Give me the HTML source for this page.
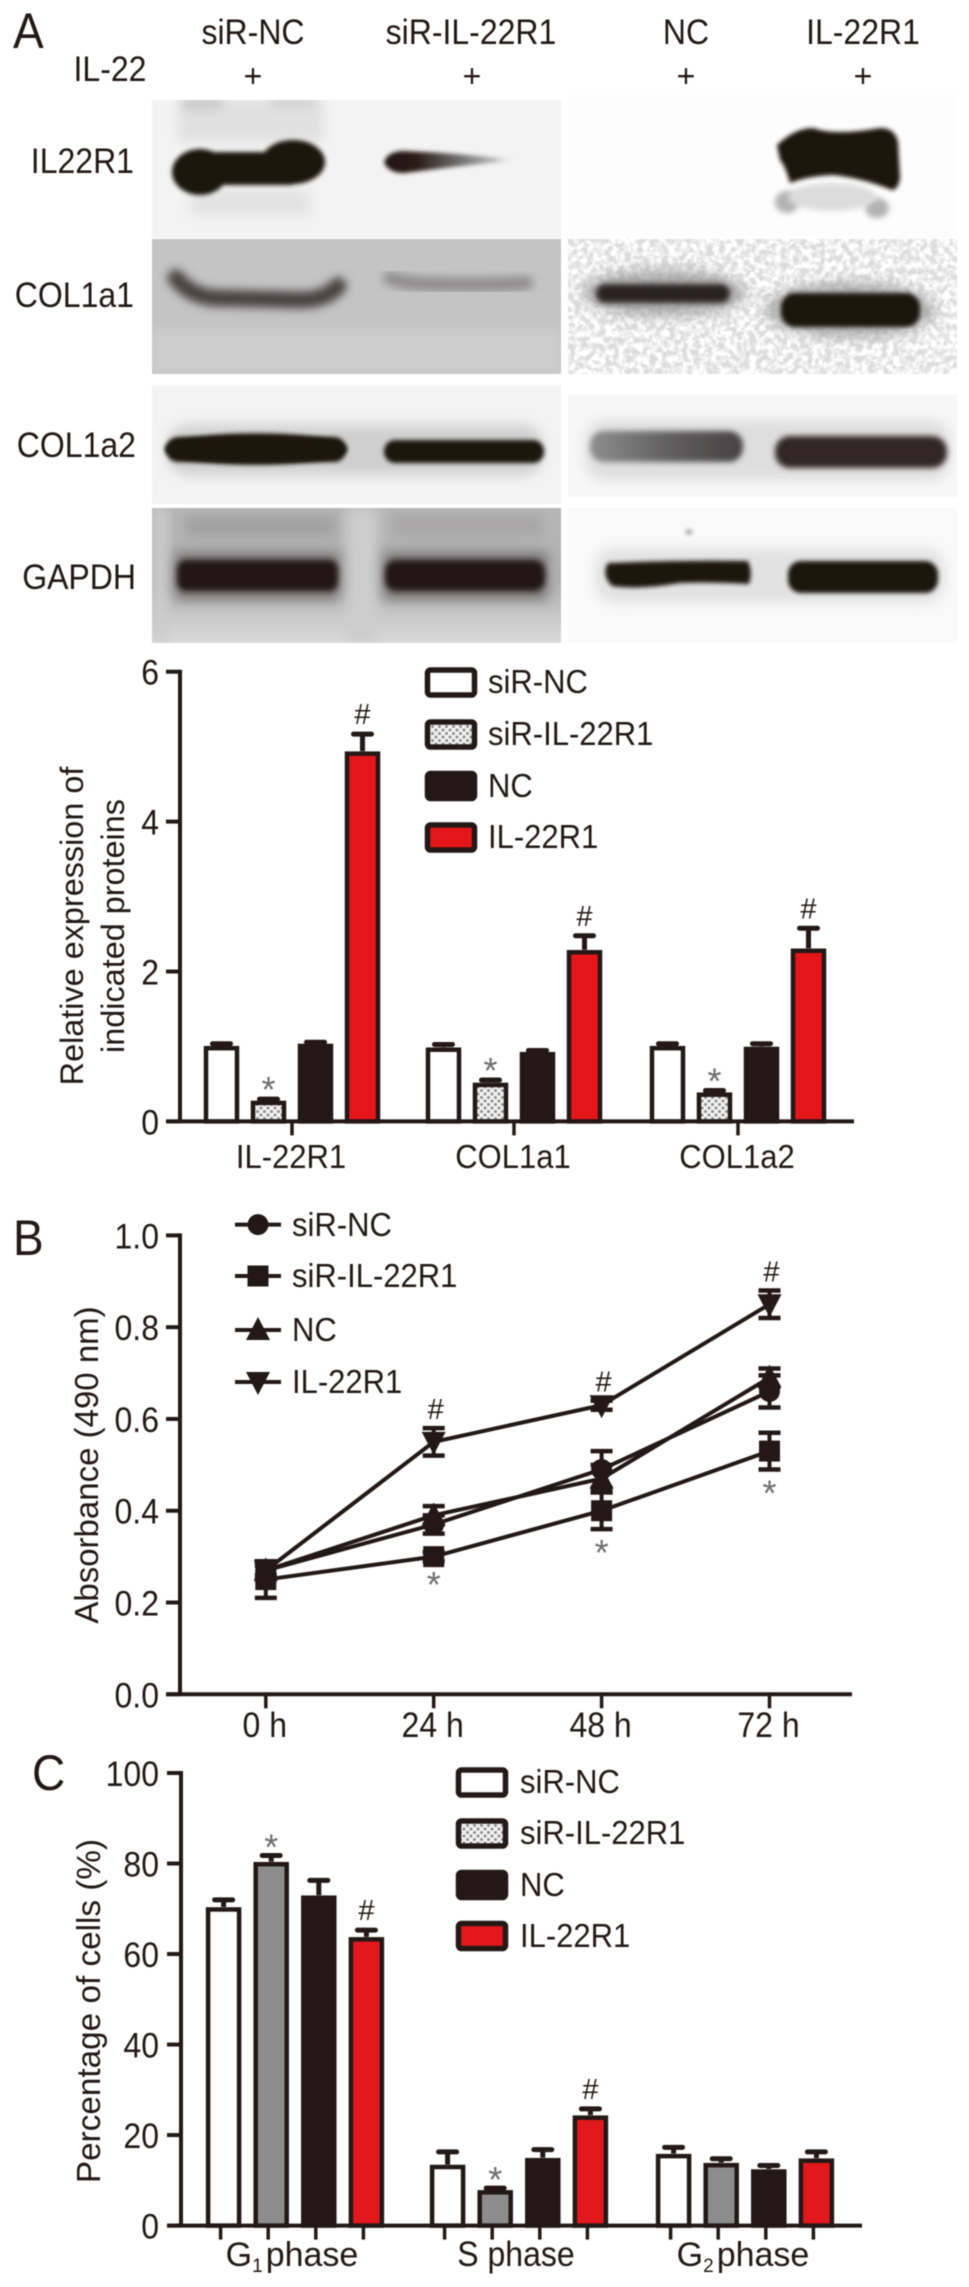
<!DOCTYPE html>
<html lang="en">
<head>
<meta charset="utf-8">
<title>IL-22R1 western blots, proliferation and cell cycle</title>
<style>
  html, body { margin: 0; padding: 0; background: #fff; }
  #figure { display: block; width: 969px; height: 2287px; filter: blur(0.6px); }
  text { font-family: "Liberation Sans", sans-serif; fill: #231815; }
</style>
</head>
<body>
<svg id="figure" xmlns="http://www.w3.org/2000/svg" width="969" height="2287" viewBox="0 0 969 2287">
  <defs>
    <filter id="b1" x="-30%" y="-60%" width="160%" height="220%"><feGaussianBlur stdDeviation="2"/></filter>
    <filter id="b3" x="-30%" y="-80%" width="160%" height="260%"><feGaussianBlur stdDeviation="3"/></filter>
    <filter id="b4" x="-30%" y="-100%" width="160%" height="300%"><feGaussianBlur stdDeviation="4.5"/></filter>
    <filter id="b6" x="-30%" y="-100%" width="160%" height="300%"><feGaussianBlur stdDeviation="6"/></filter>
    <filter id="grain" x="0" y="0" width="100%" height="100%">
      <feTurbulence type="fractalNoise" baseFrequency="0.16" numOctaves="3" seed="4"/>
      <feColorMatrix type="matrix" values="0 0 0 0 1  0 0 0 0 1  0 0 0 0 1  2.4 2.4 0 0 -1.9"/>
    </filter>
    <linearGradient id="taper" x1="0" x2="1" y1="0" y2="0">
      <stop offset="0" stop-color="#1f1210"/>
      <stop offset="0.25" stop-color="#2a1c1a"/>
      <stop offset="0.55" stop-color="#6b6868"/>
      <stop offset="0.85" stop-color="#b8b8b8"/>
      <stop offset="1" stop-color="#f0f0f0"/>
    </linearGradient>
    <linearGradient id="nc-a2" x1="0" x2="1" y1="0" y2="0">
      <stop offset="0" stop-color="#8e8e8e"/>
      <stop offset="0.5" stop-color="#626060"/>
      <stop offset="1" stop-color="#454242"/>
    </linearGradient>
    <linearGradient id="gapdh-bg" x1="0" x2="0" y1="0" y2="1">
      <stop offset="0" stop-color="#b6b6b6"/>
      <stop offset="0.55" stop-color="#b2b2b2"/>
      <stop offset="1" stop-color="#dadada"/>
    </linearGradient>
    <pattern id="hatch" width="7" height="7" patternUnits="userSpaceOnUse">
      <rect width="7" height="7" fill="#f2f2f2"/>
      <circle cx="2" cy="2" r="1.5" fill="#8e8e8e"/>
      <circle cx="5.5" cy="5.5" r="1.5" fill="#8e8e8e"/>
    </pattern>
    <clipPath id="clip-l1"><rect x="152" y="100" width="409" height="138"/></clipPath>
    <clipPath id="clip-l2"><rect x="152" y="239" width="409" height="135"/></clipPath>
    <clipPath id="clip-l3"><rect x="152" y="385" width="409" height="119"/></clipPath>
    <clipPath id="clip-l4"><rect x="152" y="508" width="409" height="135"/></clipPath>
    <clipPath id="clip-r1"><rect x="568" y="95" width="389" height="143"/></clipPath>
    <clipPath id="clip-r2"><rect x="568" y="239" width="389" height="135"/></clipPath>
    <clipPath id="clip-r3"><rect x="568" y="395" width="389" height="102"/></clipPath>
    <clipPath id="clip-r4"><rect x="568" y="508" width="389" height="135"/></clipPath>
  </defs>

  <g>
    <text x="13" y="48" font-size="46">A</text>
    <g font-size="32" text-anchor="middle">
      <text x="253" y="44">siR-NC</text>
      <text x="471" y="44">siR-IL-22R1</text>
      <text x="686" y="44">NC</text>
      <text x="863" y="44">IL-22R1</text>
      <text x="110" y="81">IL-22</text>
      <text x="253" y="87">+</text>
      <text x="472" y="87">+</text>
      <text x="686" y="87">+</text>
      <text x="863" y="87">+</text>
    </g>
    <g font-size="32" text-anchor="end">
      <text x="134" y="173">IL22R1</text>
      <text x="134" y="307">COL1a1</text>
      <text x="136" y="457">COL1a2</text>
      <text x="136" y="589">GAPDH</text>
    </g>

    <g clip-path="url(#clip-l1)">
      <rect x="152" y="100" width="409" height="138" fill="#f3f3f3"/>
      <rect x="178" y="98" width="145" height="44" fill="#e0e0e0" filter="url(#b6)"/>
      <rect x="183" y="96" width="40" height="14" fill="#cccccc" filter="url(#b4)"/>
      <rect x="270" y="96" width="45" height="12" fill="#d4d4d4" filter="url(#b4)"/>
      <rect x="190" y="190" width="120" height="25" fill="#e2e2e2" filter="url(#b6)"/>
      <g fill="#1f1210" filter="url(#b1)">
        <ellipse cx="200" cy="172" rx="28" ry="23"/>
        <ellipse cx="293" cy="162" rx="32" ry="22"/>
        <rect x="200" y="152" width="93" height="33"/>
      </g>
      <path d="M384,162 Q388,151 404,151 Q460,153 515,160 Q460,166 404,173 Q388,173 384,162 Z" fill="url(#taper)" filter="url(#b1)"/>
    </g>
    <g clip-path="url(#clip-r1)">
      <rect x="568" y="95" width="389" height="143" fill="#fdfdfd"/>
      <ellipse cx="787" cy="202" rx="12" ry="11" fill="#b2b2b2" filter="url(#b3)"/>
      <ellipse cx="877" cy="208" rx="12" ry="10" fill="#b2b2b2" filter="url(#b3)"/>
      <ellipse cx="832" cy="197" rx="44" ry="14" fill="#dcdcdc" filter="url(#b3)"/>
      <path d="M777,145 Q795,128 813,128 Q835,136 880,128 Q895,128 898,142 L900,178 Q898,190 892,190 Q862,178 833,175 Q808,176 790,183 Q785,165 780,160 Z" fill="#1f1210" filter="url(#b1)"/>
    </g>

    <g clip-path="url(#clip-l2)">
      <rect x="152" y="239" width="409" height="135" fill="#c4c4c4"/>
      <rect x="152" y="330" width="409" height="44" fill="#cdcdcd" filter="url(#b6)"/>
      <path d="M176,278 Q190,296 215,298 L300,300 Q326,300 338,286" fill="none" stroke="#4a4342" stroke-width="17" stroke-linecap="round" filter="url(#b4)"/>
      <path d="M390,278 Q400,283 430,284 Q480,286 526,283" fill="none" stroke="#8f8c8c" stroke-width="14" stroke-linecap="round" filter="url(#b4)"/>
    </g>
    <g clip-path="url(#clip-r2)">
      <rect x="568" y="239" width="389" height="135" fill="#dcdcdc"/>
      <rect x="568" y="239" width="389" height="135" filter="url(#grain)"/>
      <ellipse cx="664" cy="293" rx="82" ry="24" fill="#9a9a9a" opacity="0.75" filter="url(#b6)"/>
      <ellipse cx="850" cy="310" rx="85" ry="28" fill="#9a9a9a" opacity="0.75" filter="url(#b6)"/>
      <rect x="596" y="284" width="134" height="19" rx="9" fill="#2c2220" filter="url(#b3)"/>
      <rect x="781" y="293" width="139" height="34" rx="14" fill="#1f1210" filter="url(#b1)"/>
    </g>

    <g clip-path="url(#clip-l3)">
      <rect x="152" y="385" width="409" height="119" fill="#f3f3f3"/>
      <rect x="168" y="425" width="375" height="50" rx="20" fill="#cfcfcf" filter="url(#b6)"/>
      <ellipse cx="256" cy="449" rx="91" ry="15.5" fill="#1f1210" filter="url(#b1)"/>
      <rect x="166" y="437" width="180" height="25" rx="12" fill="#1f1210" filter="url(#b1)"/>
      <rect x="384" y="440" width="160" height="23" rx="11" fill="#1f1210" filter="url(#b1)"/>
    </g>
    <g clip-path="url(#clip-r3)">
      <rect x="568" y="395" width="389" height="102" fill="#f7f7f7"/>
      <rect x="585" y="420" width="365" height="60" rx="20" fill="#dedede" filter="url(#b6)"/>
      <rect x="590" y="431" width="153" height="31" rx="14" fill="url(#nc-a2)" filter="url(#b3)"/>
      <rect x="775" y="436" width="172" height="32" rx="15" fill="#332826" filter="url(#b3)"/>
    </g>

    <g clip-path="url(#clip-l4)">
      <rect x="152" y="508" width="409" height="135" fill="url(#gapdh-bg)"/>
      <rect x="152" y="508" width="16" height="135" fill="#cccccc" filter="url(#b6)"/>
      <rect x="346" y="508" width="32" height="135" fill="#cdcdcd" filter="url(#b6)"/>
      <rect x="185" y="515" width="150" height="22" fill="#a2a0a0" filter="url(#b6)"/>
      <rect x="392" y="515" width="150" height="22" fill="#a8a6a6" filter="url(#b6)"/>
      <rect x="175" y="552" width="165" height="48" fill="#7a7676" filter="url(#b6)"/>
      <rect x="383" y="552" width="165" height="48" fill="#7a7676" filter="url(#b6)"/>
      <rect x="177" y="560" width="161" height="31" rx="9" fill="#241816" filter="url(#b3)"/>
      <rect x="385" y="560" width="160" height="31" rx="11" fill="#241816" filter="url(#b3)"/>
    </g>
    <g clip-path="url(#clip-r4)">
      <rect x="568" y="508" width="389" height="135" fill="#f9f9f9"/>
      <rect x="595" y="548" width="350" height="55" rx="20" fill="#e2e2e2" filter="url(#b6)"/>
      <path d="M608,563 Q680,560 748,561 Q753,572 749,584 Q715,582 680,583 Q640,590 612,586 Q601,575 608,563 Z" fill="#1f1210" filter="url(#b1)"/>
      <rect x="788" y="561" width="150" height="32" rx="13" fill="#1f1210" filter="url(#b1)"/>
      <ellipse cx="689" cy="532" rx="3.5" ry="2.5" fill="#9c9c9c" filter="url(#b1)"/>
    </g>
  </g>

  <g id="chart-a">
    <text transform="translate(83 926) rotate(-90)" font-size="32.4" text-anchor="middle">Relative expression of</text>
    <text transform="translate(124 926) rotate(-90)" font-size="32.4" text-anchor="middle">indicated proteins</text>
  </g>
  <g id="chart-a-legend" font-size="31">
    <g>
      <rect x="427.5" y="670" width="47" height="25" rx="3" fill="#fff" stroke="#231815" stroke-width="5.5"/>
      <text x="488" y="693">siR-NC</text>
    </g>
    <g>
      <rect x="427.5" y="722" width="47" height="25" rx="3" fill="url(#hatch)" stroke="#231815" stroke-width="5.5"/>
      <text x="488" y="745">siR-IL-22R1</text>
    </g>
    <g>
      <rect x="427.5" y="773.5" width="47" height="25" rx="3" fill="#231815" stroke="#231815" stroke-width="5.5"/>
      <text x="488" y="797">NC</text>
    </g>
    <g>
      <rect x="427.5" y="825" width="47" height="25" rx="3" fill="#e5161a" stroke="#231815" stroke-width="5.5"/>
      <text x="488" y="848">IL-22R1</text>
    </g>
  </g>

  <g id="chart-b">
    <text x="13" y="1255" font-size="46">B</text>
    <text transform="translate(98 1465) rotate(-90)" font-size="33" text-anchor="middle">Absorbance (490 nm)</text>
  </g>
  <g id="chart-b-legend" font-size="31">
    <text x="292" y="1236">siR-NC</text>
    <text x="292" y="1287">siR-IL-22R1</text>
    <text x="292" y="1341">NC</text>
    <text x="292" y="1393">IL-22R1</text>
  </g>

  <g id="chart-c">
    <text x="32" y="1790" font-size="46">C</text>
    <text transform="translate(100 2011) rotate(-90)" font-size="33.3" text-anchor="middle">Percentage of cells (%)</text>
  </g>
  <g id="chart-c-legend" font-size="31">
    <g>
      <rect x="458.5" y="1770" width="47" height="25" rx="3" fill="#fff" stroke="#231815" stroke-width="5.5"/>
      <text x="520" y="1793">siR-NC</text>
    </g>
    <g>
      <rect x="458.5" y="1821" width="47" height="25" rx="3" fill="url(#hatch)" stroke="#231815" stroke-width="5.5"/>
      <text x="520" y="1844">siR-IL-22R1</text>
    </g>
    <g>
      <rect x="458.5" y="1872.5" width="47" height="25" rx="3" fill="#231815" stroke="#231815" stroke-width="5.5"/>
      <text x="520" y="1896">NC</text>
    </g>
    <g>
      <rect x="458.5" y="1923.5" width="47" height="25" rx="3" fill="#e5161a" stroke="#231815" stroke-width="5.5"/>
      <text x="520" y="1947">IL-22R1</text>
    </g>
  </g>
</svg>

<script>
/* ---------- Panel A data ---------- */
const aCategories = ['IL-22R1', 'COL1a1', 'COL1a2'];
const aYTicks = [0, 2, 4, 6];
const aSiNC = [1.01, 0.99, 1.01];
const aSiIL = [0.28, 0.52, 0.39];
const aNC = [1.04, 0.93, 1.0];
const aIL = [4.94, 2.29, 2.31];
const aSiNCErr = [0.04, 0.05, 0.04];
const aSiILErr = [0.03, 0.045, 0.035];
const aNCErr = [0.03, 0.03, 0.05];
const aILErr = [0.24, 0.2, 0.28];

/* ---------- Panel B data ---------- */
const bCategories = ['0 h', '24 h', '48 h', '72 h'];
const bYTicks = [0, 0.2, 0.4, 0.6, 0.8, 1.0];
const bSiNC = [0.27, 0.37, 0.49, 0.66];
const bSiIL = [0.25, 0.3, 0.4, 0.53];
const bNC = [0.27, 0.39, 0.47, 0.69];
const bIL = [0.27, 0.55, 0.63, 0.85];
const bSiNCErr = [0.02, 0.02, 0.04, 0.035];
const bSiILErr = [0.04, 0.01, 0.04, 0.04];
const bNCErr = [0.02, 0.02, 0.03, 0.02];
const bILErr = [0.01, 0.03, 0.01, 0.03];

/* ---------- Panel C data ---------- */
const cCategories = ['G', 'S phase', 'G'];
const cYTicks = [0, 20, 40, 60, 80, 100];
const cSiNC = [70.4, 13.5, 15.9];
const cSiIL = [80.4, 7.9, 13.9];
const cNC = [73, 15, 12.5];
const cIL = [63.8, 24.4, 14.9];
const cSiNCErr = [1.8, 3.0, 1.6];
const cSiILErr = [1.6, 0.6, 1.1];
const cNCErr = [3.5, 2.0, 1.0];
const cILErr = [1.7, 1.6, 1.6];

const INK = '#231815';
const SVGNS = 'http://www.w3.org/2000/svg';

function el(tag, attrs, parent) {
  const n = document.createElementNS(SVGNS, tag);
  for (const k in attrs) n.setAttribute(k, attrs[k]);
  parent.appendChild(n);
  return n;
}
function hashMark(parent, x, topY) {
  const t = el('text', { x: x, y: topY - 9, 'font-size': 29, 'text-anchor': 'middle' }, parent);
  t.textContent = '#';
  
  
}
function starMark(parent, x, centerY) {
  const t = el('text', { x: x, y: centerY + 21, 'font-size': 36, 'text-anchor': 'middle' }, parent);
  t.style.fill = '#6e6e6e';
  t.textContent = '*';
  
  
}
function drawYAxis(parent, x0, scale, ticks, fmt, labelX) {
  const line = el('line', { x1: x0, x2: x0, y1: scale(ticks[ticks.length - 1]) - 2, y2: scale(ticks[0]), stroke: INK, 'stroke-width': 4 }, parent);
  
  
  ticks.forEach(function (v) {
    const tick = el('line', { x1: x0 - 14, x2: x0, y1: scale(v), y2: scale(v), stroke: INK, 'stroke-width': 4 }, parent);
    
    
    const label = el('text', { x: labelX, y: scale(v) + 13, 'font-size': 32, 'text-anchor': 'end' }, parent);
    label.textContent = fmt(v);
    
    
  });
}
function drawBars(parent, opts) {
  const series = opts.series;
  opts.categories.forEach(function (cat, g) {
    series.forEach(function (s, i) {
      const cx = opts.centers(g) + (i - 1.5) * opts.step;
      const top = opts.y(s.values[g]);
      const errTop = opts.y(s.values[g] + s.errs[g]);
      const err = el('line', { x1: cx, x2: cx, y1: top, y2: errTop, stroke: INK, 'stroke-width': 5 }, parent);
      
      
      const cap = el('line', { x1: cx - 9, x2: cx + 9, y1: errTop + 1, y2: errTop + 1, stroke: INK, 'stroke-width': 5, 'stroke-linecap': 'round' }, parent);
      
      
      const bar = el('rect', { x: cx - 15.5, y: top + 2.5, width: 31, height: Math.max(opts.y(0) - top - 2.5, 0), fill: s.fill, stroke: INK, 'stroke-width': 4.5 }, parent);
      
      
      if (opts.tickEach) {
        const t = el('line', { x1: cx - 3, x2: cx - 3, y1: opts.y(0), y2: opts.y(0) + 14, stroke: INK, 'stroke-width': 3.5 }, parent);
        
        
      }
      if (opts.mark) opts.mark(parent, g, i, cx, errTop);
    });
    if (!opts.tickEach) {
      const t = el('line', { x1: opts.centers(g), x2: opts.centers(g), y1: opts.y(0), y2: opts.y(0) + 14, stroke: INK, 'stroke-width': 3.5 }, parent);
      
      
    }
  });
}

/* ---------- Panel A ---------- */
(function () {
  const root = document.getElementById('chart-a');
  const y = function (v) { return 1121.4 - v * 74.95; };
  const centers = function (g) { return [292, 514, 738][g]; };
  drawYAxis(root, 180, y, aYTicks, String, 159);
  const xAxis = el('line', { x1: 167, x2: 854, y1: y(0), y2: y(0), stroke: INK, 'stroke-width': 4 }, root);
  
  
  drawBars(root, {
    categories: aCategories, centers: centers, step: 47, y: y,
    series: [
      { key: 'sir-nc', values: aSiNC, errs: aSiNCErr, fill: '#ffffff' },
      { key: 'sir-il-22r1', values: aSiIL, errs: aSiILErr, fill: 'url(#hatch)' },
      { key: 'nc', values: aNC, errs: aNCErr, fill: INK },
      { key: 'il-22r1', values: aIL, errs: aILErr, fill: '#e5161a' }
    ],
    mark: function (p, g, i, cx, errTop) {
      if (i === 1) starMark(p, cx, errTop - 17);
      if (i === 3) hashMark(p, cx, errTop);
    }
  });
  aCategories.forEach(function (c, g) {
    const t = el('text', { x: centers(g) - 1, y: 1168, 'font-size': 31, 'text-anchor': 'middle' }, root);
    t.textContent = c;
    
    
  });
})();

/* ---------- Panel B ---------- */
function marker(parent, kind, x, y) {
  let m;
  if (kind === 'circle') {
    m = el('circle', { cx: x, cy: y, r: 10.5, fill: INK }, parent);
  } else if (kind === 'square') {
    m = el('rect', { x: x - 10.5, y: y - 10.5, width: 21, height: 21, fill: INK }, parent);
  } else if (kind === 'up') {
    m = el('polygon', { points: (x - 12) + ',' + (y + 10) + ' ' + (x + 12) + ',' + (y + 10) + ' ' + x + ',' + (y - 13), fill: INK }, parent);
  } else {
    m = el('polygon', { points: (x - 12) + ',' + (y - 10) + ' ' + (x + 12) + ',' + (y - 10) + ' ' + x + ',' + (y + 13), fill: INK }, parent);
  }
  
  
}
(function () {
  const root = document.getElementById('chart-b');
  const y = function (v) { return 1694.3 - v * 458.9; };
  const x = function (i) { return 265.8 + i * 167.9; };
  drawYAxis(root, 180, y, bYTicks, function (v) { return v.toFixed(1); }, 159);
  const xAxis = el('line', { x1: 167, x2: 852, y1: y(0), y2: y(0), stroke: INK, 'stroke-width': 4 }, root);
  
  
  bCategories.forEach(function (c, i) {
    const tick = el('line', { x1: x(i), x2: x(i), y1: y(0), y2: y(0) + 14, stroke: INK, 'stroke-width': 3.5 }, root);
    
    
    const label = el('text', { x: x(i) - 1, y: 1737, 'font-size': 32, 'text-anchor': 'middle' }, root);
    label.textContent = c;
    
    
  });
  const series = [
    { key: 'sir-nc', kind: 'circle', values: bSiNC, errs: bSiNCErr },
    { key: 'sir-il-22r1', kind: 'square', values: bSiIL, errs: bSiILErr },
    { key: 'nc', kind: 'up', values: bNC, errs: bNCErr },
    { key: 'il-22r1', kind: 'down', values: bIL, errs: bILErr }
  ];
  series.forEach(function (s) {
    const pts = s.values.map(function (v, i) { return x(i) + ',' + y(v); }).join(' ');
    const line = el('polyline', { points: pts, fill: 'none', stroke: INK, 'stroke-width': 4 }, root);
    
    
    s.values.forEach(function (v, i) {
      const stem = el('line', { x1: x(i), x2: x(i), y1: y(v - s.errs[i]), y2: y(v + s.errs[i]), stroke: INK, 'stroke-width': 4 }, root);
      
      
      [v - s.errs[i], v + s.errs[i]].forEach(function (e) {
        const cap = el('line', { x1: x(i) - 11, x2: x(i) + 11, y1: y(e), y2: y(e), stroke: INK, 'stroke-width': 4.5 }, root);
        
        
      });
      marker(root, s.kind, x(i), y(v));
    });
  });
  bIL.forEach(function (v, i) {
    if (i > 0) hashMark(root, x(i) + 2, y(v + bILErr[i]));
  });
  bSiIL.forEach(function (v, i) {
    if (i > 0) starMark(root, x(i), y(v - bSiILErr[i]) + 15);
  });
  const legendRows = [
    { kind: 'circle', cy: 1224.6 },
    { kind: 'square', cy: 1276 },
    { kind: 'up', cy: 1330 },
    { kind: 'down', cy: 1382 }
  ];
  legendRows.forEach(function (r) {
    const l = el('line', { x1: 235, x2: 281, y1: r.cy, y2: r.cy, stroke: INK, 'stroke-width': 4 }, root);
    
    
    marker(root, r.kind, 258, r.cy);
  });
})();

/* ---------- Panel C ---------- */
(function () {
  const root = document.getElementById('chart-c');
  const y = function (v) { return 2225.6 - v * 4.526; };
  const centers = function (g) { return [295, 519, 745][g]; };
  drawYAxis(root, 181, y, cYTicks, String, 159);
  const xAxis = el('line', { x1: 168, x2: 862, y1: y(0), y2: y(0), stroke: INK, 'stroke-width': 4 }, root);
  
  
  drawBars(root, {
    categories: cCategories, centers: centers, step: 47.6, y: y, tickEach: true,
    series: [
      { key: 'sir-nc', values: cSiNC, errs: cSiNCErr, fill: '#ffffff' },
      { key: 'sir-il-22r1', values: cSiIL, errs: cSiILErr, fill: '#8c8c8c' },
      { key: 'nc', values: cNC, errs: cNCErr, fill: INK },
      { key: 'il-22r1', values: cIL, errs: cILErr, fill: '#e1191d' }
    ],
    mark: function (p, g, i, cx, errTop) {
      if (g < 2 && i === 1) starMark(p, cx, errTop - 16);
      if (g < 2 && i === 3) hashMark(p, cx, errTop);
    }
  });
  const subs = ['1', '', '2'];
  cCategories.forEach(function (c, g) {
    const t = el('text', { x: [292, 516, 743][g], y: 2266, 'font-size': 32, 'text-anchor': 'middle' }, root);
    
    
    if (subs[g]) {
      const a = el('tspan', { 'font-size': 34 }, t);
      a.textContent = c;
      const b = el('tspan', { 'font-size': 19, dy: 6 }, t);
      b.textContent = subs[g];
      const d = el('tspan', { 'font-size': 34, dy: -6, dx: 3 }, t);
      d.textContent = 'phase';
    } else {
      t.textContent = c;
    }
  });
})();

/* The reference lettering is tall and narrow: enlarge upright labels while keeping their original width. */
document.querySelectorAll('#figure text').forEach(function (t) {
  const label = t.textContent;
  if (t.getAttribute('transform') || t.children.length || label === '#' || label === '*' || label === '+') return;
  const width = t.getComputedTextLength();
  const size = parseFloat(getComputedStyle(t).fontSize);
  t.setAttribute('font-size', (size * 1.09).toFixed(2));
  t.setAttribute('textLength', width.toFixed(2));
  t.setAttribute('lengthAdjust', 'spacingAndGlyphs');
});
</script>
</body>
</html>
